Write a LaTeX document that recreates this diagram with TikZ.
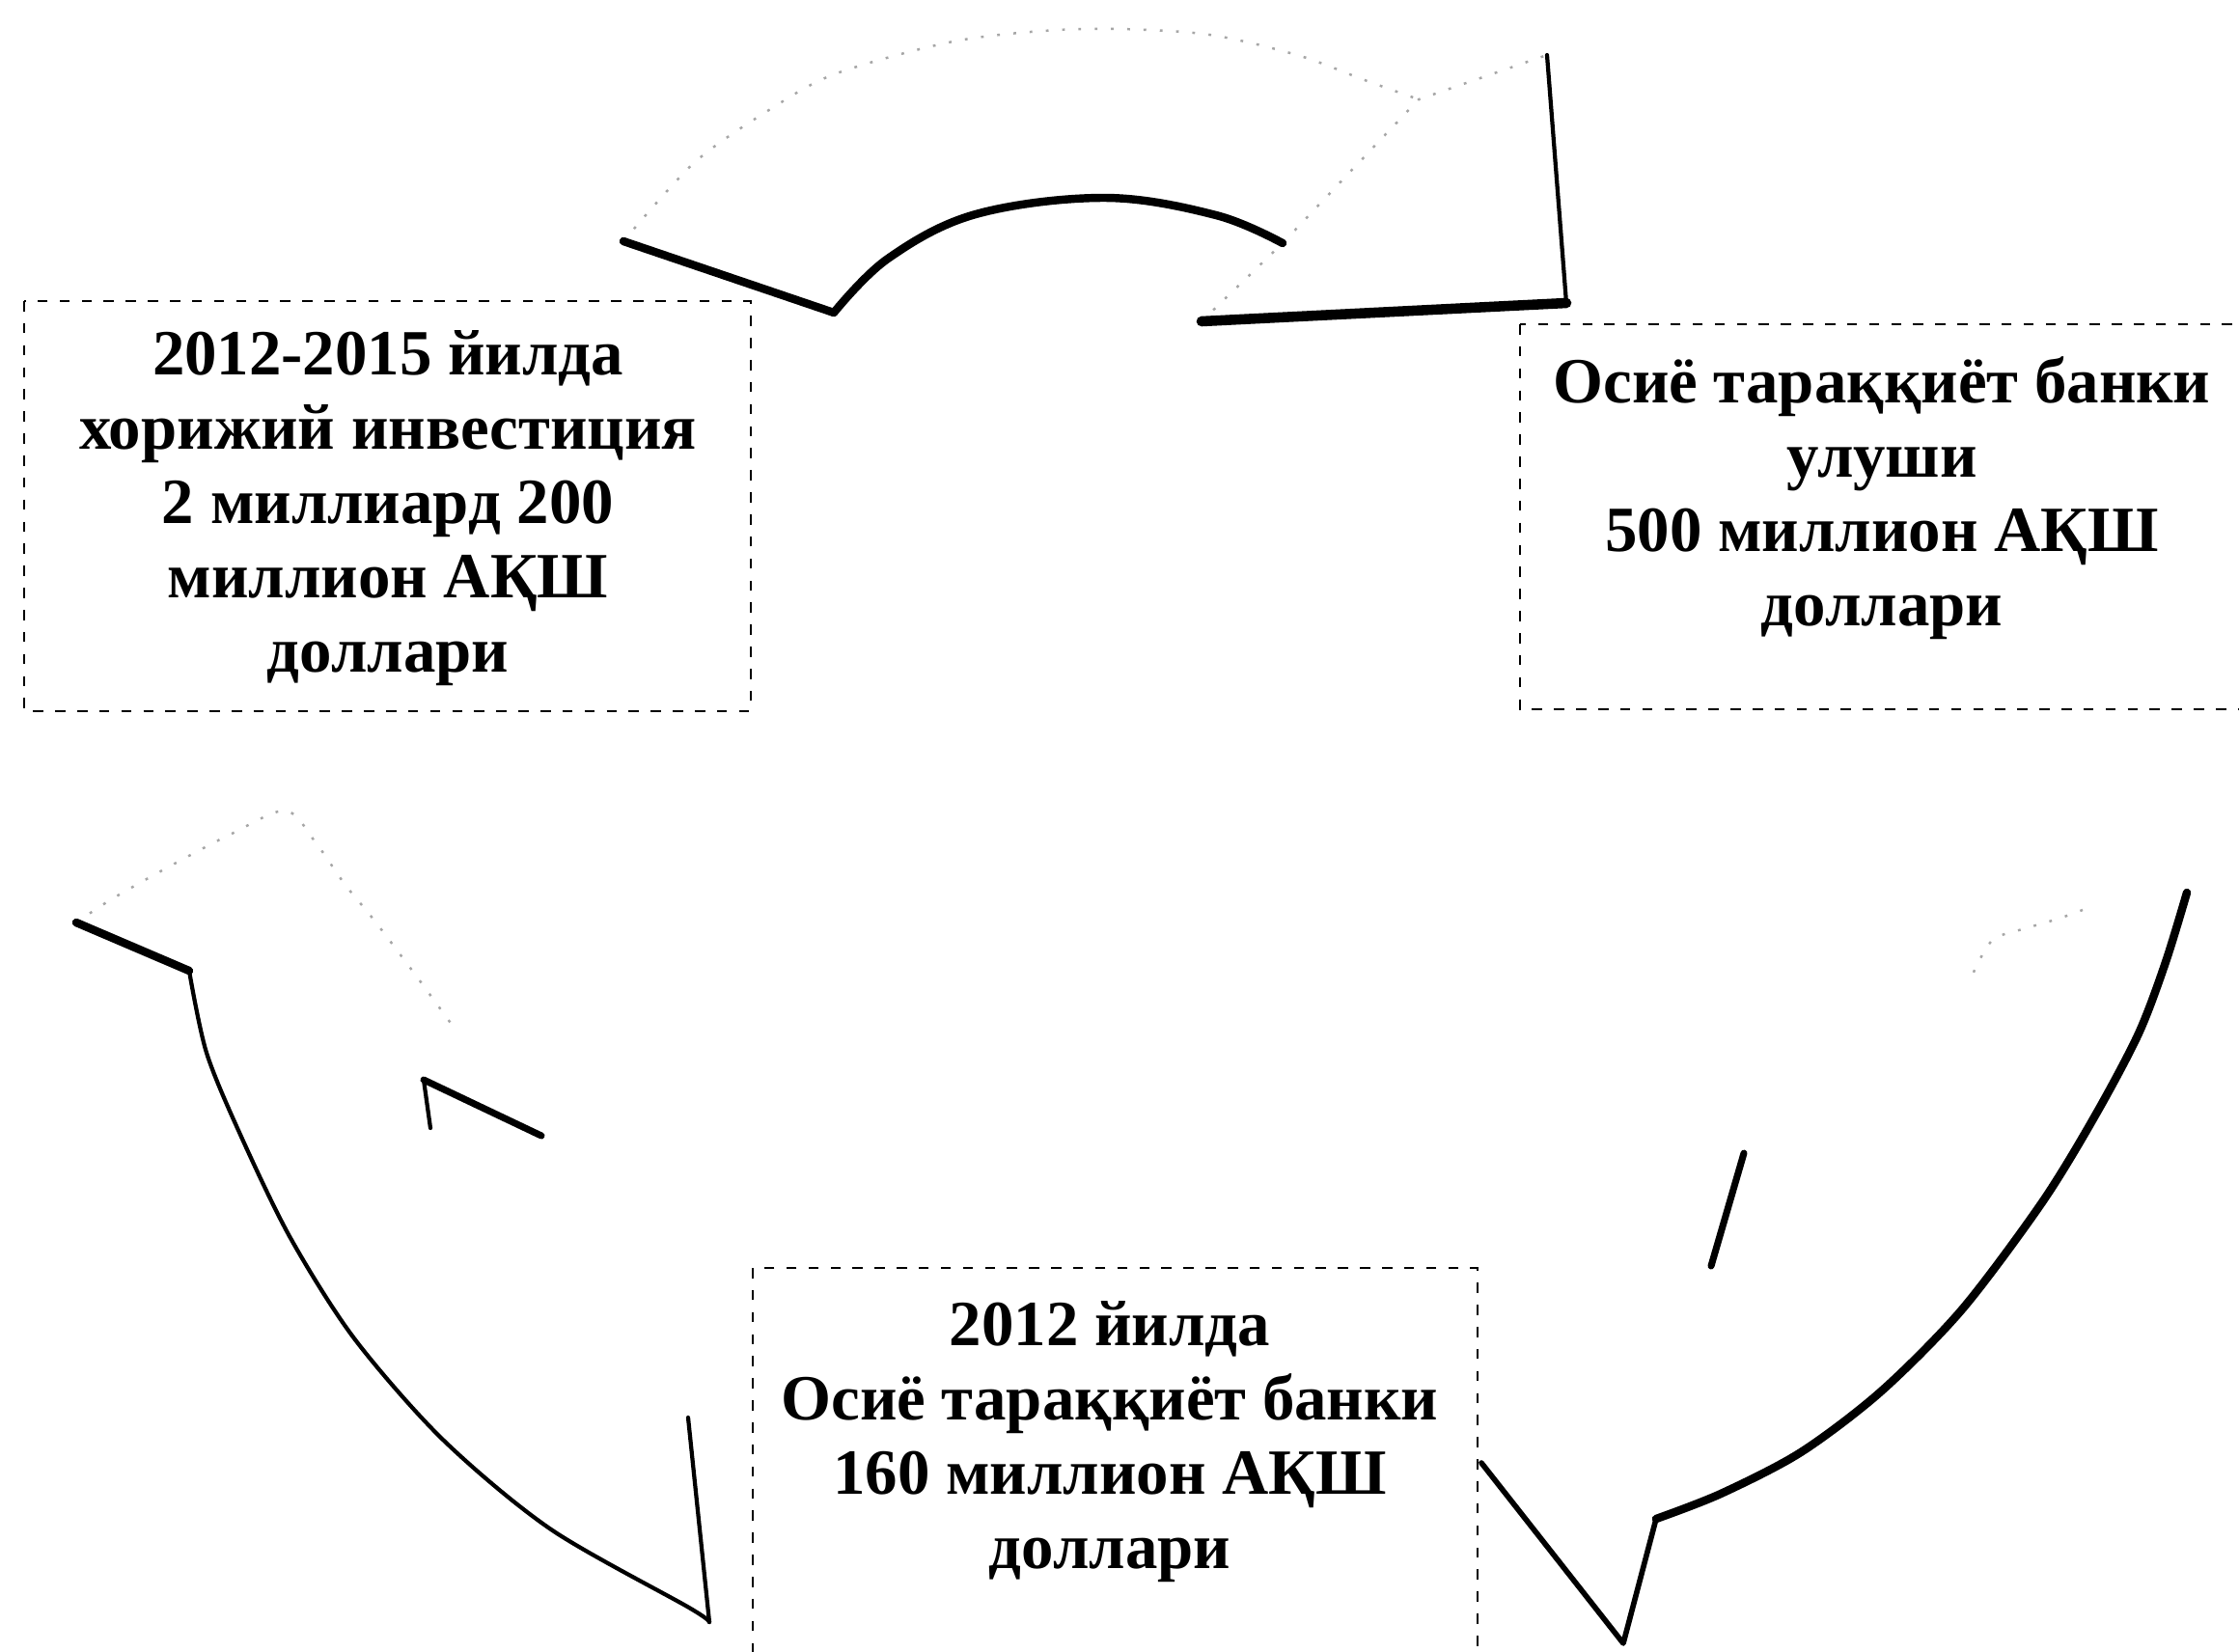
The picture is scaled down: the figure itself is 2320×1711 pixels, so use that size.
\documentclass[tikz,border=0pt]{standalone}
\usepackage{fontspec}
\setmainfont{Liberation Serif}
\usepackage{tikz}

\begin{document}
\begin{tikzpicture}[
  x=0.01cm, y=-0.01cm,
  txt/.style={align=center, inner sep=0pt, font=\fontsize{19}{21.9}\selectfont\bfseries},
  dashbox/.style={draw, line width=0.8pt, dash pattern=on 3pt off 3.5pt},
  edge/.style={line width=2.4pt, line cap=round, line join=round},
  thinedge/.style={line width=1.2pt, line cap=round, line join=round},
  faint/.style={black!35, line width=0.7pt, dash pattern=on 0.8pt off 4pt},
]
\useasboundingbox (0,0) rectangle (2320,1711);
\clip (0,0) rectangle (2320,1711);
\fill[white] (0,0) rectangle (2320,1711);

% dashed boxes
\draw[dashbox] (25,312) rectangle (778,737);
\draw[dashbox] (1575,336) rectangle (2345,735);
\draw[dashbox] (780,1314) rectangle (1531,1740);

\node[txt] (invest) at (402,527) {2012-2015 йилда\\хорижий инвестиция\\2 миллиард 200\\миллион АҚШ\\доллари};
\node[txt] (share) at (1950,516) {Осиё тараққиёт банки\\улуши\\500 миллион АҚШ\\доллари};
\node[txt] (loan) at (1150,1494) {2012 йилда\\Осиё тараққиёт банки\\160 миллион АҚШ\\доллари};

% top arrow
\coordinate (tTo) at (646,250);
\coordinate (tTi) at (864,324);
\coordinate (tAi) at (1329,252);
\coordinate (tAo) at (1470,103);
\coordinate (tHi) at (1245,333);
\coordinate (tHo) at (1603,57);
\coordinate (tTip) at (1623,314);
\draw[faint] plot[smooth] coordinates {(646,250) (720,168) (800,112) (867,76) (993,42) (1120,30) (1246,35) (1344,57) (1414,83) (1470,103)};
\draw[faint] (tHi) -- (tAi) -- (tAo) -- (tHo);
\draw[edge] (tTo) -- (tTi);
\draw[edge] plot[smooth, tension=0.6] coordinates {(864,324) (920,268) (1011,222) (1145,205) (1260,223) (1329,252)};
\draw[edge, line width=3pt] (tHi) -- (tTip);
\draw[thinedge] (tHo) -- (tTip);

% left arrow
\coordinate (lTo) at (79,956);
\coordinate (lTi) at (196,1006);
\coordinate (lHo) at (713,1469);
\coordinate (lTip) at (735,1681);
\coordinate (lCa) at (439,1119);
\coordinate (lCb) at (561,1177);
\coordinate (lCc) at (446,1169);
\draw[faint] plot[smooth] coordinates {(79,956) (117,931) (179,896) (240,864) (296,840) (327,873) (357,916) (388,954) (434,1015) (474,1070)};
\draw[edge] (lTo) -- (lTi);
\draw[thinedge] plot[smooth] coordinates {(196,1006) (214,1091) (250,1178) (301,1283) (367,1387) (459,1492) (571,1585) (714,1666) (735,1681)};
\draw[thinedge] (lHo) -- (lTip);
\draw[edge, line width=2pt] (lCa) -- (lCb);
\draw[thinedge] (lCa) -- (lCc);

% right arrow
\coordinate (rHo) at (1716,1574);
\coordinate (rTip) at (1682,1703);
\coordinate (rHi) at (1535,1516);
\coordinate (rCa) at (1807,1195);
\coordinate (rCb) at (1773,1312);
\draw[faint] plot[smooth] coordinates {(2158,943) (2133,952) (2099,962) (2066,973) (2049,999) (2041,1018)};
\draw[edge] plot[smooth] coordinates {(2266,925) (2244,997) (2216,1071) (2171,1156) (2116,1246) (2033,1357) (1949,1442) (1866,1505) (1783,1548) (1716,1574)};
\draw[thinedge, line width=1.6pt] (rHo) -- (rTip) -- (rHi);
\draw[edge, line width=2pt] (rCa) -- (rCb);
\end{tikzpicture}
\end{document}
